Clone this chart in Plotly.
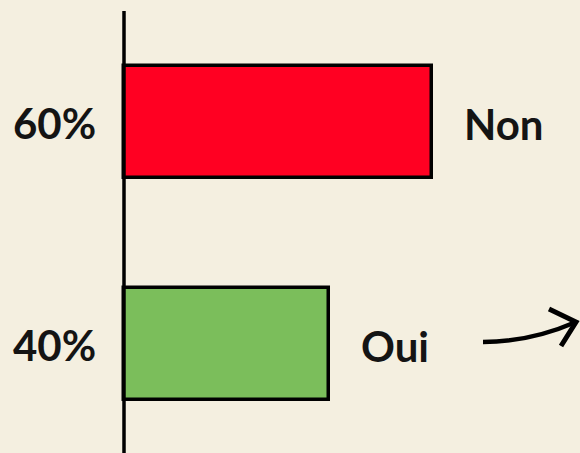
import plotly.graph_objects as go

categories = ["Oui", "Non"]
values = [40, 60]
pct_labels = ["40%", "60%"]
colors = ["#7bbe5b", "#ff0022"]

W, H = 580, 453
BG = "#f4efe0"
INK = "#141414"
FONT = "Lato"

fig = go.Figure()
fig.add_trace(go.Bar(
    x=values, y=categories, orientation="h",
    width=0.505,
    marker=dict(color=colors, line=dict(color="#000000", width=3.5)),
    hoverinfo="skip",
))

# left percent labels and right category labels
for cat, val, pl in zip(categories, values, pct_labels):
    fig.add_annotation(x=0, y=cat, xref="x", yref="y", text=f"<b>{pl}</b>",
                       showarrow=False, xanchor="right", yanchor="middle",
                       xshift=-26, yshift=-1,
                       font=dict(family=FONT, size=42, color=INK))
    fig.add_annotation(x=val, y=cat, xref="x", yref="y", text=f"<b>{cat}</b>",
                       showarrow=False, xanchor="left", yanchor="middle",
                       xshift=30, yshift=-2,
                       font=dict(family=FONT, size=42, color=INK))

# vertical baseline
fig.add_shape(type="line", xref="x", yref="paper", x0=0, x1=0,
              y0=0, y1=1 - 11 / H, line=dict(color="#000000", width=3.5), layer="above")

# decorative hand-drawn arrow (paper coords)
def px(x, y):
    return x / W, 1 - y / H

ax0, ay0 = px(483, 342)
acx, acy = px(530, 342)
ax1, ay1 = px(576, 322)
hx1, hy1 = px(549, 309)
hx2, hy2 = px(561, 346)
fig.add_shape(type="path", xref="paper", yref="paper",
              path=f"M {ax0},{ay0} Q {acx},{acy} {ax1},{ay1}",
              line=dict(color="#000000", width=4.5))
fig.add_shape(type="path", xref="paper", yref="paper",
              path=f"M {hx1},{hy1} L {ax1},{ay1} L {hx2},{hy2}",
              line=dict(color="#000000", width=5))

ppu = (432 - 124) / 60
fig.update_layout(
    width=W, height=H,
    margin=dict(l=0, r=0, t=0, b=0),
    paper_bgcolor=BG, plot_bgcolor=BG,
    showlegend=False,
    xaxis=dict(range=[-124 / ppu, (W - 124) / ppu], visible=False, fixedrange=True),
    yaxis=dict(range=[-(453 - 344) / 222, 1 + 122 / 222], visible=False,
               categoryorder="array", categoryarray=categories, fixedrange=True),
    bargap=0,
)

fig.write_html("out.html", config={"displayModeBar": False},
               post_script="document.body.style.margin='0';document.body.style.background='" + BG + "';")
